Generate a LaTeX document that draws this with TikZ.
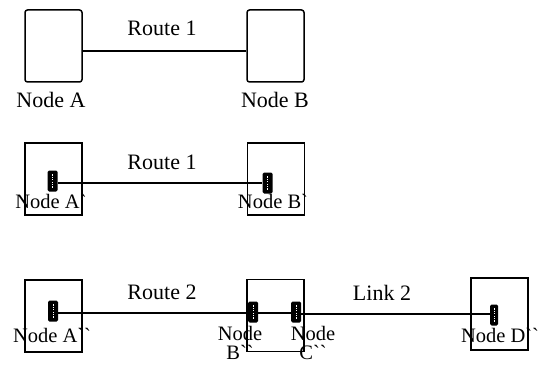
\documentclass[tikz,border=0pt]{standalone}
\usepackage{fontspec}
\setmainfont{Liberation Serif}
\begin{document}
\begin{tikzpicture}[x=1pt,y=-1pt,
  box/.style={draw,line width=1.5pt,minimum width=57pt,minimum height=72pt,inner sep=0pt},
  rbox/.style={box,rounded corners=2.5pt},
  dev/.style={fill=black,rounded corners=1.5pt,minimum width=10pt,minimum height=21pt,inner sep=0pt},
  wire/.style={line width=1.5pt},
  big/.style={font=\fontsize{22}{24}\selectfont,inner sep=0pt},
  lab/.style={font=\fontsize{20.5}{23}\selectfont,inner sep=0pt,align=center}
]
\useasboundingbox (0,0) rectangle (545,366);
% row 1
\node[rbox] (A) at (53.5,46) {};
\node[rbox] (B) at (275.5,46) {};
\draw[wire] (A.east |- 0,51) coordinate (a1) -- (B.west |- 0,51) coordinate (b1);
\node[big] (r1) at (162,28) {Route 1};
\node[big] (la) at (51,100) {Node A};
\node[big] (lb) at (275,100) {Node B};
% row 2
\node[box] (A1) at (53.5,179) {};
\node[box] (B1) at (276,179) {};
\node[dev] (dA1) at (52.5,181) {};
\node[dev] (dB1) at (267.5,183) {};
\draw[wire] (dA1.east |- 0,183) -- (dB1.west |- 0,183);
\node[big] (r2) at (162,162) {Route 1};
\node[lab] (la1) at (51,201) {Node A\textasciigrave};
\node[lab] (lb1) at (273,201) {Node B\textasciigrave};
% row 3
\node[box] (A2) at (53.5,316) {};
\node[box] (BC) at (275.5,315.5) {};
\node[box] (D2) at (499.5,314) {};
\node[dev] (dA2) at (53,311) {};
\node[dev] (dB2) at (253,312) {};
\node[dev] (dC2) at (296,312) {};
\node[dev,minimum width=8pt] (dD2) at (494,315) {};
\draw[wire] (dA2.east |- 0,313) -- (dB2.west |- 0,313);
\draw[wire] (dB2.east |- 0,313) -- (dC2.west |- 0,313);
\draw[wire] (dC2.east |- 0,314) -- (dD2.west |- 0,314);
\foreach \d in {dA1,dB1,dA2,dB2,dC2,dD2}{
  \draw[white,line width=0.4pt,dash pattern=on 1.2pt off 1.2pt] ([yshift=-4pt]\d.north) -- ([yshift=4pt]\d.south);
}
\node[big] (r3) at (162,292) {Route 2};
\node[big] (l2) at (382,293) {Link 2};
\node[lab] (la2) at (52,335) {Node A\textasciigrave\textasciigrave};
\node[lab] (ld2) at (500,335) {Node D\textasciigrave\textasciigrave};
\node[lab,anchor=north,font=\fontsize{20.5}{19}\selectfont] (lb2) at (240,326) {Node\\B\textasciigrave\textasciigrave};
\node[lab,anchor=north,font=\fontsize{20.5}{19}\selectfont] (lc2) at (313,326) {Node\\C\textasciigrave\textasciigrave};
\end{tikzpicture}
\end{document}
